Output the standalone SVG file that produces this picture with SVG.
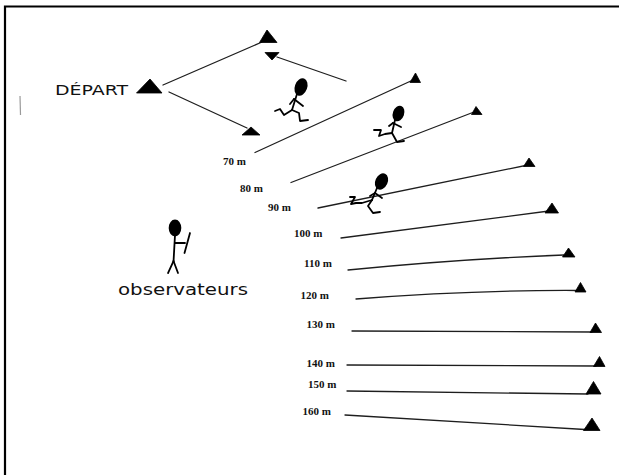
<svg xmlns="http://www.w3.org/2000/svg" width="619" height="475" viewBox="0 0 619 475">
  <style>
    .frame { fill: none; stroke: #000; stroke-width: 2.2; }
    .track { fill: none; stroke: #1e1e1e; stroke-width: 1.3; stroke-linecap: round; }
    .cone { fill: #000; stroke: #000; stroke-width: 0.8; stroke-linejoin: round; }
    .stick { fill: none; stroke: #000; stroke-width: 1.8; stroke-linecap: round; stroke-linejoin: round; }
    .head { fill: #000; }
    .dist { font-family: "Liberation Serif", "Times New Roman", serif; font-weight: bold; font-size: 11px; fill: #111; }
    .hand { font-family: "DejaVu Sans", "Liberation Sans", sans-serif; fill: #111; }
  </style>

  <rect x="0" y="0" width="619" height="475" fill="#fff"/>

  <!-- page frame: left and top edges only -->
  <polyline class="frame" points="5,475 5,6.5 619,6.5"/>

  <!-- stray pencil mark -->
  <line x1="20" y1="96" x2="20.5" y2="115" stroke="#9a9a9a" stroke-width="1.2"/>

  <!-- tracks and arrows -->
  <g id="connectors">
    <line class="track" x1="163" y1="85" x2="262" y2="42"/>
    <line class="track" x1="169" y1="92" x2="247" y2="128"/>
    <line class="track" x1="346" y1="81" x2="277" y2="57"/>
    <line class="track" x1="255" y1="152.5" x2="413" y2="80"/>
    <line class="track" x1="291" y1="182.5" x2="474" y2="112"/>
    <line class="track" x1="318" y1="208" x2="528" y2="165"/>
    <line class="track" x1="341" y1="238" x2="549" y2="211"/>
    <path class="track" d="M348,270 Q460,259 564,255"/>
    <path class="track" d="M356,299 Q470,290 577,290.5"/>
    <line class="track" x1="352" y1="331" x2="592" y2="332"/>
    <line class="track" x1="347" y1="365" x2="596" y2="366"/>
    <line class="track" x1="347" y1="391" x2="588" y2="394"/>
    <line class="track" x1="345" y1="415" x2="585" y2="429.5"/>
  </g>

  <!-- cones -->
  <g id="cone-depart"><polygon class="cone" points="150,79 136.5,93 162,93"/></g>
  <g id="cone-top"><polygon class="cone" points="267,30 259.5,42.5 277,42.5"/></g>
  <g id="arrowhead-return"><polygon class="cone" points="265,52.5 279,52.5 272,60"/></g>
  <g id="arrowhead-out"><polygon class="cone" points="251,127 242,135 260,135"/></g>
  <g id="cone-70"><polygon class="cone" points="415.5,73 410,82.5 420.5,82.5"/></g>
  <g id="cone-80"><polygon class="cone" points="476,106.5 471.5,114.5 482,114.5"/></g>
  <g id="cone-90"><polygon class="cone" points="529,158 523.5,166.5 535,166.5"/></g>
  <g id="cone-100"><polygon class="cone" points="552,203 545,213 558.5,213"/></g>
  <g id="cone-110"><polygon class="cone" points="568.5,248 562.5,257 575,257"/></g>
  <g id="cone-120"><polygon class="cone" points="580.5,282.5 575,292 586,292"/></g>
  <g id="cone-130"><polygon class="cone" points="595.5,323 590,332.5 601.5,332.5"/></g>
  <g id="cone-140"><polygon class="cone" points="599.5,356.5 593.5,366.5 605,366.5"/></g>
  <g id="cone-150"><polygon class="cone" points="593.5,381.5 586,394 601,394"/></g>
  <g id="cone-160"><polygon class="cone" points="592,418 583.5,430.5 600,430.5"/></g>

  <!-- start label -->
  <g id="label-depart">
    <text class="hand" x="55" y="95" font-size="13.5" textLength="73" lengthAdjust="spacingAndGlyphs">DÉPART</text>
  </g>

  <!-- runners -->
  <g id="runner-1">
    <ellipse class="head" cx="301" cy="87" rx="6.2" ry="9" transform="rotate(20 301 87)"/>
    <polyline class="stick" points="297,94 292,110"/>
    <polyline class="stick" points="294,99 303,106"/>
    <polyline class="stick" points="294,99 290,104"/>
    <polyline class="stick" points="292,110 284,115 280,109 275,111"/>
    <polyline class="stick" points="292,110 299,113 300,121 308,120"/>
  </g>
  <g id="runner-2">
    <ellipse class="head" cx="398.5" cy="113.5" rx="5.6" ry="8" transform="rotate(20 398.5 113.5)"/>
    <polyline class="stick" points="395,120 392,133"/>
    <polyline class="stick" points="393,123 401,127"/>
    <polyline class="stick" points="393,123 389,126"/>
    <polyline class="stick" points="392,133 385,134 379,136 381,130 374,130"/>
    <polyline class="stick" points="392,133 397,142 404,141"/>
  </g>
  <g id="runner-3">
    <ellipse class="head" cx="381.5" cy="181.5" rx="6.2" ry="8.5" transform="rotate(25 381.5 181.5)"/>
    <polyline class="stick" points="377,188 372,200"/>
    <polyline class="stick" points="375,193 382,198"/>
    <polyline class="stick" points="375,193 370,196"/>
    <polyline class="stick" points="372,200 362,203 356,203 351,204 355,197 350,197"/>
    <polyline class="stick" points="372,200 368,206 373,213 380,212"/>
  </g>

  <!-- observer -->
  <g id="observer">
    <ellipse class="head" cx="175" cy="228" rx="6.3" ry="8.5"/>
    <polyline class="stick" points="175,235 173.5,262"/>
    <polyline class="stick" points="173.5,261 168,273"/>
    <polyline class="stick" points="173.5,261 178,273"/>
    <polyline class="stick" points="175,243 185,243"/>
    <polyline class="stick" points="190,233 184.5,253"/>
    <text class="hand" x="118" y="295" font-size="16" textLength="130" lengthAdjust="spacingAndGlyphs">observateurs</text>
  </g>

  <!-- distance labels -->
  <g id="labels">
    <text class="dist" x="223" y="165">70 m</text>
    <text class="dist" x="240" y="191.5">80 m</text>
    <text class="dist" x="268" y="210.5">90 m</text>
    <text class="dist" x="294" y="236.5">100 m</text>
    <text class="dist" x="304" y="266.5">110 m</text>
    <text class="dist" x="300.5" y="299">120 m</text>
    <text class="dist" x="306.5" y="328">130 m</text>
    <text class="dist" x="306.5" y="366.5">140 m</text>
    <text class="dist" x="308" y="388">150 m</text>
    <text class="dist" x="302.5" y="415">160 m</text>
  </g>
</svg>
